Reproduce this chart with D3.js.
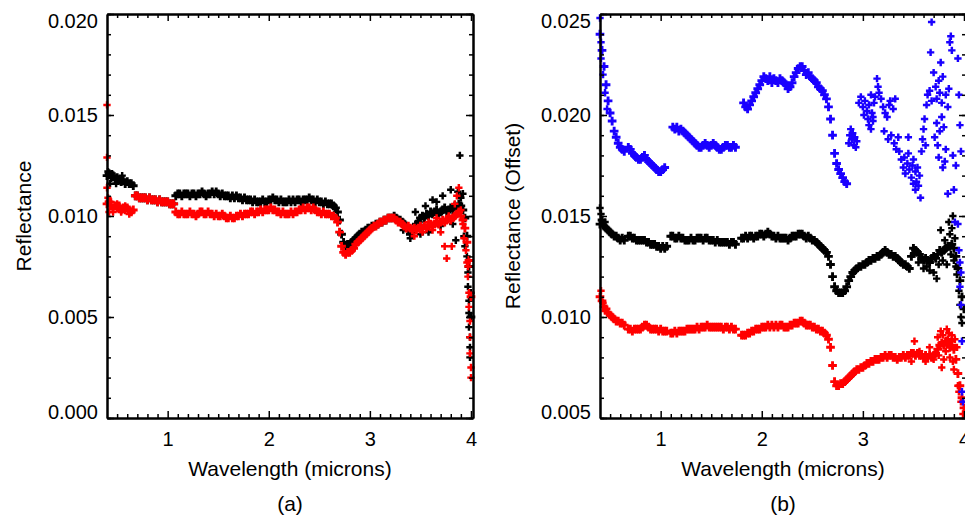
<!DOCTYPE html>
<html>
<head>
<meta charset="utf-8">
<script src="https://cdn.jsdelivr.net/npm/d3@7"></script>
<style>
body { margin: 0; background: #fff; }
svg { display: block; }
text { font-family: "Liberation Sans", Arial, Helvetica, sans-serif; fill: #000; }
</style>
</head>
<body>
<svg width="965" height="518"></svg>
<script>
// wavelength grid, microns
var wavelength = [
  0.40, 0.42, 0.44, 0.46, 0.48, 0.50, 0.52, 0.54, 0.56, 0.58,
  0.60, 0.62, 0.64, 0.66, 0.68, 0.70, 0.72, 0.74, 0.76, 0.78,
  0.80, 0.82, 0.84, 0.86, 0.88, 0.90, 0.92, 0.94, 0.96, 0.98,
  1.00, 1.02, 1.04, 1.06, 1.08, 1.10, 1.12, 1.14, 1.16, 1.18,
  1.20, 1.22, 1.24, 1.26, 1.28, 1.30, 1.32, 1.34, 1.36, 1.38,
  1.40, 1.42, 1.44, 1.46, 1.48, 1.50, 1.52, 1.54, 1.56, 1.58,
  1.60, 1.62, 1.64, 1.66, 1.68, 1.70, 1.72, 1.74, 1.76, 1.78,
  1.80, 1.82, 1.84, 1.86, 1.88, 1.90, 1.92, 1.94, 1.96, 1.98,
  2.00, 2.02, 2.04, 2.06, 2.08, 2.10, 2.12, 2.14, 2.16, 2.18,
  2.20, 2.22, 2.24, 2.26, 2.28, 2.30, 2.32, 2.34, 2.36, 2.38,
  2.40, 2.42, 2.44, 2.46, 2.48, 2.50, 2.52, 2.54, 2.56, 2.58,
  2.60, 2.62, 2.64, 2.66, 2.68, 2.70, 2.72, 2.74, 2.76, 2.78,
  2.80, 2.82, 2.84, 2.86, 2.88, 2.90, 2.92, 2.94, 2.96, 2.98,
  3.00, 3.02, 3.04, 3.06, 3.08, 3.10, 3.12, 3.14, 3.16, 3.18,
  3.20, 3.22, 3.24, 3.26, 3.28, 3.30, 3.32, 3.34, 3.36, 3.38,
  3.40, 3.42, 3.44, 3.46, 3.48, 3.50, 3.52, 3.54, 3.56, 3.58,
  3.60, 3.62, 3.64, 3.66, 3.68, 3.70, 3.72, 3.74, 3.76, 3.78,
  3.80, 3.82, 3.84, 3.86, 3.88, 3.90, 3.92, 3.94, 3.96, 3.98,
  4.00
];

// (a) black spectrum
var reflA_black = [
  0.0120, 0.0121, 0.0119, 0.0120, 0.0118, 0.0119, 0.0118, 0.0117, 0.0118, 0.0116,
  0.0117, 0.0116, 0.0116, 0.0115, 0.0110, 0.0110, 0.0109, 0.0109, 0.0109, 0.0109,
  0.0108, 0.0109, 0.0108, 0.0108, 0.0108, 0.0107, 0.0108, 0.0107, 0.0107, 0.0107,
  0.0107, 0.0106, 0.0106, 0.0106, 0.0110, 0.0111, 0.0111, 0.0110, 0.0111, 0.0111,
  0.0111, 0.0110, 0.0111, 0.0111, 0.0110, 0.0111, 0.0111, 0.0112, 0.0111, 0.0110,
  0.0111, 0.0111, 0.0112, 0.0111, 0.0112, 0.0111, 0.0110, 0.0111, 0.0110, 0.0110,
  0.0110, 0.0109, 0.0110, 0.0109, 0.0110, 0.0109, 0.0109, 0.0108, 0.0109, 0.0108,
  0.0108, 0.0108, 0.0107, 0.0108, 0.0107, 0.0107, 0.0107, 0.0108, 0.0107, 0.0107,
  0.0108, 0.0108, 0.0109, 0.0108, 0.0108, 0.0107, 0.0108, 0.0107, 0.0107, 0.0107,
  0.0108, 0.0107, 0.0108, 0.0107, 0.0108, 0.0108, 0.0107, 0.0108, 0.0108, 0.0108,
  0.0109, 0.0108, 0.0108, 0.0107, 0.0108, 0.0107, 0.0107, 0.0106, 0.0107, 0.0106,
  0.0106, 0.0106, 0.0105, 0.0104, 0.0102, 0.0098, 0.0091, 0.0087, 0.0085, 0.0086,
  0.0086, 0.0087, 0.0088, 0.0089, 0.0090, 0.0091, 0.0092, 0.0092, 0.0093, 0.0094,
  0.0094, 0.0095, 0.0095, 0.0096, 0.0096, 0.0097, 0.0097, 0.0098, 0.0098, 0.0099,
  0.0099, 0.0099, 0.0100, 0.0099, 0.0098, 0.0098, 0.0097, 0.0096, 0.0095, 0.0093,
  0.0091, 0.0092, 0.0094, 0.0096, 0.0097, 0.0099, 0.0100, 0.0099, 0.0101, 0.0100,
  0.0102, 0.0101, 0.0102, 0.0103, 0.0101, 0.0102, 0.0103, 0.0104, 0.0102, 0.0103,
  0.0104, 0.0103, 0.0105, 0.0104, 0.0106, 0.0105, 0.0103, 0.0099, 0.0090, 0.0075,
  0.0050
];

// (a) red spectrum
var reflA_red = [
  0.0106, 0.0107, 0.0105, 0.0104, 0.0105, 0.0104, 0.0105, 0.0103, 0.0104, 0.0103,
  0.0104, 0.0103, 0.0102, 0.0103, 0.0110, 0.0110, 0.0109, 0.0109, 0.0109, 0.0109,
  0.0108, 0.0109, 0.0108, 0.0108, 0.0108, 0.0107, 0.0108, 0.0107, 0.0107, 0.0107,
  0.0107, 0.0106, 0.0106, 0.0106, 0.0102, 0.0101, 0.0101, 0.0102, 0.0101, 0.0101,
  0.0101, 0.0102, 0.0101, 0.0101, 0.0100, 0.0101, 0.0102, 0.0102, 0.0101, 0.0101,
  0.0102, 0.0101, 0.0101, 0.0100, 0.0101, 0.0100, 0.0100, 0.0101, 0.0100, 0.0099,
  0.0099, 0.0100, 0.0099, 0.0099, 0.0100, 0.0100, 0.0101, 0.0100, 0.0101, 0.0101,
  0.0101, 0.0102, 0.0102, 0.0101, 0.0102, 0.0102, 0.0103, 0.0102, 0.0103, 0.0103,
  0.0103, 0.0104, 0.0103, 0.0103, 0.0102, 0.0102, 0.0101, 0.0102, 0.0101, 0.0101,
  0.0101, 0.0102, 0.0101, 0.0102, 0.0102, 0.0103, 0.0103, 0.0104, 0.0103, 0.0104,
  0.0104, 0.0103, 0.0104, 0.0103, 0.0102, 0.0102, 0.0101, 0.0102, 0.0101, 0.0101,
  0.0101, 0.0100, 0.0100, 0.0099, 0.0097, 0.0092, 0.0085, 0.0082, 0.0081, 0.0082,
  0.0082, 0.0083, 0.0084, 0.0086, 0.0087, 0.0088, 0.0089, 0.0090, 0.0091, 0.0092,
  0.0093, 0.0094, 0.0095, 0.0095, 0.0096, 0.0097, 0.0097, 0.0098, 0.0098, 0.0099,
  0.0099, 0.0099, 0.0099, 0.0098, 0.0097, 0.0097, 0.0096, 0.0095, 0.0094, 0.0095,
  0.0094, 0.0093, 0.0094, 0.0093, 0.0094, 0.0095, 0.0094, 0.0095, 0.0094, 0.0095,
  0.0096, 0.0095, 0.0096, 0.0097, 0.0096, 0.0097, 0.0098, 0.0097, 0.0098, 0.0099,
  0.0098, 0.0099, 0.0100, 0.0101, 0.0102, 0.0100, 0.0098, 0.0094, 0.0087, 0.0078,
  0.0060
];

// (a) noisy points off the grid [wavelength, reflectance]
var scatterA_black = [
  [0.41, 0.0122], [0.43, 0.0116], [0.45, 0.0121], [0.49, 0.0116], [0.55, 0.0120],
  [3.33, 0.0093], [3.40, 0.0089], [3.45, 0.0102], [3.50, 0.0091], [3.55, 0.0105],
  [3.58, 0.0092], [3.62, 0.0108], [3.66, 0.0107], [3.70, 0.0095], [3.72, 0.0110],
  [3.76, 0.0103], [3.80, 0.0113], [3.82, 0.0096], [3.85, 0.0088], [3.87, 0.0112],
  [3.89, 0.0130], [3.90, 0.0109], [3.92, 0.0111], [3.93, 0.0090], [3.94, 0.0085],
  [3.96, 0.0080], [3.97, 0.0072], [3.97, 0.0065], [3.98, 0.0058], [3.98, 0.0052],
  [3.98, 0.0045], [3.99, 0.0040], [3.99, 0.0035], [3.99, 0.0030], [4.00, 0.0062]
];
var scatterA_red = [
  [0.40, 0.0155], [0.40, 0.0129], [0.40, 0.0114], [0.41, 0.0109], [0.42, 0.0102],
  [0.44, 0.0107], [0.46, 0.0102], [0.50, 0.0106], [0.54, 0.0102], [0.58, 0.0105],
  [0.62, 0.0101],
  [3.44, 0.0090], [3.52, 0.0092], [3.58, 0.0097], [3.62, 0.0093], [3.66, 0.0099],
  [3.70, 0.0092], [3.74, 0.0085], [3.76, 0.0079], [3.78, 0.0100], [3.81, 0.0085],
  [3.84, 0.0106], [3.86, 0.0110], [3.88, 0.0114], [3.90, 0.0103], [3.92, 0.0096],
  [3.93, 0.0089], [3.95, 0.0083], [3.96, 0.0077], [3.97, 0.0075], [3.97, 0.0070],
  [3.98, 0.0062], [3.98, 0.0055], [3.99, 0.0048], [3.99, 0.0040], [3.99, 0.0032],
  [4.00, 0.0025], [4.00, 0.0020]
];

// (b) blue spectrum, grid part (0.40 - 2.84)
var reflB_blue = [
  0.0240, 0.0232, 0.0224, 0.0215, 0.0207, 0.0201, 0.0197, 0.0192, 0.0189, 0.0186,
  0.0184, 0.0183, 0.0182, null,   0.0184, 0.0183, 0.0181, 0.0180, 0.0179, 0.0178,
  0.0178, 0.0179, 0.0180, 0.0178, 0.0177, 0.0176, 0.0175, 0.0174, 0.0173, 0.0172,
  0.0172, 0.0173, 0.0174, null,   null,   null,   0.0194, 0.0193, 0.0194, 0.0192,
  0.0193, 0.0192, 0.0191, 0.0190, 0.0189, 0.0188, 0.0187, 0.0186, 0.0185, 0.0184,
  0.0184, 0.0185, 0.0186, 0.0185, 0.0184, 0.0185, 0.0186, 0.0185, 0.0184, 0.0183,
  0.0183, 0.0184, 0.0185, 0.0185, 0.0184, 0.0184, 0.0185, 0.0184, null,   null,
  null,   0.0206, 0.0204, 0.0203, 0.0205, 0.0207, 0.0209, 0.0211, 0.0213, 0.0215,
  0.0217, 0.0219, 0.0218, 0.0217, 0.0219, 0.0216, 0.0218, 0.0217, 0.0216, 0.0218,
  0.0217, 0.0216, 0.0215, 0.0213, 0.0214, 0.0216, 0.0219, 0.0221, 0.0223, 0.0224,
  0.0224, 0.0222, 0.0220, 0.0221, 0.0219, 0.0218, 0.0217, 0.0216, 0.0214, 0.0213,
  0.0212, 0.0210, 0.0208, 0.0204, 0.0198, 0.0190, 0.0181, 0.0176, 0.0173, 0.0171,
  0.0169, 0.0167, 0.0166
];

// (b) black spectrum
var reflB_black = [
  0.0146, 0.0148, 0.0145, 0.0144, 0.0143, 0.0142, 0.0141, 0.0140, 0.0140, 0.0139,
  0.0138, 0.0139, 0.0138, null,   0.0140, 0.0140, 0.0139, 0.0139, 0.0138, 0.0138,
  0.0138, 0.0138, 0.0138, 0.0137, 0.0137, 0.0136, 0.0136, 0.0136, 0.0135, 0.0135,
  0.0134, 0.0135, 0.0134, 0.0135, null,   0.0140, 0.0140, 0.0139, 0.0139, 0.0140,
  0.0139, 0.0139, 0.0138, 0.0138, 0.0138, 0.0139, 0.0138, 0.0138, 0.0139, 0.0139,
  0.0139, 0.0138, 0.0139, 0.0139, 0.0138, 0.0138, 0.0138, 0.0137, 0.0138, 0.0137,
  0.0137, 0.0137, 0.0137, 0.0137, 0.0136, 0.0137, 0.0137, 0.0136, null,   null,
  0.0139, 0.0139, 0.0140, 0.0139, 0.0140, 0.0140, 0.0139, 0.0140, 0.0140, 0.0141,
  0.0141, 0.0140, 0.0141, 0.0142, 0.0141, 0.0140, 0.0140, 0.0139, 0.0140, 0.0139,
  0.0139, 0.0139, 0.0139, 0.0138, 0.0139, 0.0140, 0.0140, 0.0140, 0.0141, 0.0141,
  0.0141, 0.0140, 0.0139, 0.0140, 0.0139, 0.0138, 0.0138, 0.0137, 0.0136, 0.0135,
  0.0134, 0.0133, 0.0132, 0.0130, 0.0126, 0.0120, 0.0115, 0.0113, 0.0112, 0.0112,
  0.0112, 0.0113, 0.0115, 0.0118, 0.0120, 0.0122, 0.0123, 0.0124, 0.0125, 0.0125,
  0.0126, 0.0126, 0.0127, 0.0128, 0.0128, 0.0129, 0.0129, 0.0130, 0.0130, 0.0131,
  0.0132, 0.0133, 0.0132, 0.0131, 0.0131, 0.0130, 0.0130, 0.0129, 0.0128, 0.0127,
  0.0126, 0.0126, 0.0125, 0.0124, 0.0130, 0.0134, 0.0133, 0.0132, 0.0131, 0.0129,
  0.0128, 0.0129, 0.0128, 0.0127, 0.0129, 0.0130, 0.0129, 0.0131, 0.0133, 0.0132,
  0.0133, 0.0134, 0.0135, 0.0135, 0.0136, 0.0134, 0.0130, 0.0124, 0.0118, 0.0110,
  0.0104
];

// (b) red spectrum
var reflB_red = [
  0.0110, 0.0108, 0.0105, 0.0104, 0.0102, 0.0101, 0.0100, 0.0099, 0.0098, 0.0098,
  0.0097, 0.0097, 0.0096, null,   0.0094, 0.0094, 0.0093, 0.0094, 0.0094, 0.0094,
  0.0094, 0.0095, 0.0096, 0.0096, 0.0095, 0.0094, 0.0094, 0.0094, 0.0094, 0.0093,
  0.0094, 0.0093, 0.0093, 0.0093, null,   0.0092, 0.0092, 0.0093, 0.0092, 0.0093,
  0.0093, 0.0093, 0.0093, 0.0094, 0.0094, 0.0094, 0.0094, 0.0094, 0.0095, 0.0094,
  0.0095, 0.0095, 0.0095, 0.0096, 0.0095, 0.0095, 0.0095, 0.0095, 0.0095, 0.0095,
  0.0095, 0.0094, 0.0095, 0.0095, 0.0094, 0.0095, 0.0094, 0.0094, null,   null,
  0.0091, 0.0091, 0.0091, 0.0092, 0.0092, 0.0093, 0.0093, 0.0094, 0.0094, 0.0094,
  0.0095, 0.0095, 0.0095, 0.0096, 0.0095, 0.0096, 0.0095, 0.0096, 0.0095, 0.0096,
  0.0096, 0.0095, 0.0095, 0.0095, 0.0096, 0.0096, 0.0097, 0.0097, 0.0097, 0.0098,
  0.0098, 0.0097, 0.0096, 0.0096, 0.0096, 0.0095, 0.0095, 0.0094, 0.0094, 0.0093,
  0.0093, 0.0092, 0.0091, 0.0089, 0.0085, 0.0076, 0.0068, 0.0066, 0.0066, 0.0067,
  0.0067, 0.0068, 0.0069, 0.0070, 0.0071, 0.0072, 0.0073, 0.0074, 0.0074, 0.0075,
  0.0075, 0.0076, 0.0077, 0.0077, 0.0078, 0.0078, 0.0079, 0.0079, 0.0079, 0.0080,
  0.0080, 0.0081, 0.0080, 0.0081, 0.0081, 0.0080, 0.0080, 0.0079, 0.0080, 0.0080,
  0.0081, 0.0080, 0.0081, 0.0081, 0.0082, 0.0082, 0.0081, 0.0082, 0.0081, 0.0081,
  0.0080, 0.0081, 0.0080, 0.0081, 0.0080, 0.0081, 0.0082, 0.0084, 0.0086, 0.0087,
  0.0086, 0.0088, 0.0087, 0.0085, 0.0086, 0.0084, 0.0079, 0.0072, 0.0066, 0.0060,
  0.0055
];

// (b) noisy points off the grid [wavelength, reflectance]
var scatterB_blue = [
  [0.40, 0.0248], [0.41, 0.0236], [0.41, 0.0228], [0.43, 0.0220], [0.45, 0.0211], [0.47, 0.0203],
  [2.86, 0.0186], [2.87, 0.0190], [2.88, 0.0193], [2.89, 0.0188], [2.90, 0.0191], [2.91, 0.0185],
  [2.92, 0.0189], [2.93, 0.0184], [2.94, 0.0187],
  [2.96, 0.0206], [2.98, 0.0209], [3.00, 0.0204], [3.01, 0.0200], [3.02, 0.0207], [3.04, 0.0202],
  [3.05, 0.0198], [3.06, 0.0205], [3.08, 0.0210], [3.09, 0.0201], [3.10, 0.0197], [3.11, 0.0206],
  [3.12, 0.0209], [3.14, 0.0218], [3.15, 0.0214], [3.16, 0.0211],
  [3.06, 0.0195], [3.08, 0.0193], [3.10, 0.0199],
  [3.18, 0.0208], [3.20, 0.0204], [3.22, 0.0201], [3.24, 0.0199], [3.26, 0.0205], [3.27, 0.0207],
  [3.30, 0.0203], [3.32, 0.0208],
  [3.21, 0.0192], [3.25, 0.0188], [3.28, 0.0190], [3.31, 0.0186], [3.33, 0.0183], [3.35, 0.0189],
  [3.36, 0.0182], [3.38, 0.0178], [3.40, 0.0174], [3.41, 0.0179], [3.42, 0.0171], [3.44, 0.0176],
  [3.45, 0.0181], [3.46, 0.0173], [3.48, 0.0169], [3.49, 0.0175], [3.50, 0.0178], [3.52, 0.0172],
  [3.53, 0.0167], [3.54, 0.0174], [3.56, 0.0170], [3.45, 0.0189],
  [3.50, 0.0166], [3.52, 0.0163], [3.55, 0.0165], [3.57, 0.0159],
  [3.58, 0.0182], [3.59, 0.0188], [3.60, 0.0193], [3.61, 0.0198], [3.62, 0.0185],
  [3.63, 0.0205], [3.64, 0.0210], [3.66, 0.0212], [3.68, 0.0207], [3.67, 0.0231], [3.68, 0.0246],
  [3.70, 0.0221], [3.72, 0.0214], [3.73, 0.0208], [3.75, 0.0217], [3.76, 0.0211], [3.78, 0.0206],
  [3.79, 0.0219], [3.77, 0.0226],
  [3.71, 0.0189], [3.73, 0.0196], [3.74, 0.0185], [3.76, 0.0192], [3.78, 0.0199], [3.80, 0.0194],
  [3.82, 0.0183], [3.75, 0.0179], [3.79, 0.0174], [3.81, 0.0177], [3.84, 0.0161],
  [3.82, 0.0210], [3.84, 0.0204], [3.85, 0.0213], [3.86, 0.0236], [3.87, 0.0239], [3.88, 0.0232],
  [3.89, 0.0180], [3.90, 0.0163], [3.92, 0.0175], [3.91, 0.0147],
  [3.94, 0.0228], [3.95, 0.0210], [3.96, 0.0195], [3.97, 0.0182],
  [3.94, 0.0146], [3.95, 0.0133], [3.96, 0.0127], [3.97, 0.0122], [3.96, 0.0115], [3.97, 0.0106],
  [3.98, 0.0088], [3.98, 0.0063], [3.99, 0.0058]
];
var scatterB_black = [
  [0.40, 0.0154], [0.41, 0.0151], [0.43, 0.0146], [0.45, 0.0147],
  [3.50, 0.0131], [3.55, 0.0127], [3.60, 0.0124], [3.63, 0.0125], [3.66, 0.0123], [3.70, 0.0122],
  [3.73, 0.0119], [3.75, 0.0126], [3.77, 0.0143], [3.79, 0.0128], [3.81, 0.0138], [3.83, 0.0126],
  [3.85, 0.0147], [3.86, 0.0141], [3.87, 0.0131], [3.88, 0.0144], [3.89, 0.0150], [3.90, 0.0128],
  [3.91, 0.0139], [3.92, 0.0125], [3.93, 0.0121], [3.95, 0.0113], [3.96, 0.0106], [3.97, 0.0100],
  [3.98, 0.0097]
];
var scatterB_red = [
  [0.41, 0.0113], [0.43, 0.0107], [0.45, 0.0103],
  [3.48, 0.0078], [3.51, 0.0088], [3.56, 0.0083], [3.62, 0.0078], [3.66, 0.0085], [3.70, 0.0079],
  [3.74, 0.0090], [3.75, 0.0081], [3.77, 0.0093], [3.78, 0.0075], [3.79, 0.0091], [3.80, 0.0079],
  [3.82, 0.0083], [3.83, 0.0094], [3.84, 0.0089], [3.85, 0.0092], [3.86, 0.0080], [3.87, 0.0088],
  [3.88, 0.0091], [3.89, 0.0078], [3.90, 0.0074], [3.91, 0.0089], [3.93, 0.0085], [3.94, 0.0066],
  [3.95, 0.0063], [3.97, 0.0058], [3.99, 0.0052]
];

var xMajor = [1, 2, 3, 4];
var yMajorA = [0.000, 0.005, 0.010, 0.015, 0.020];
var yMajorB = [0.005, 0.010, 0.015, 0.020, 0.025];

var svg = d3.select("svg");
var plotW = 366, plotH = 404, plotTop = 14;
// dense spectra get a slightly fatter cross so the band closes up
var crossDense = d3.symbol().type(d3.symbolCross).size(42);
var crossSparse = d3.symbol().type(d3.symbolCross).size(30);

function onGrid(values) {
    return wavelength.map(function (w, i) { return [w, values[i]]; })
        .filter(function (d) { return d[1] != null; });
}

function drawPanel(p) {
    var g = svg.append("g").attr("transform", "translate(" + p.left + "," + plotTop + ")");
    var x = d3.scaleLinear().domain([0.4, 4.02]).range([0, plotW]);
    var y = d3.scaleLinear().domain(p.yDomain).range([plotH, 0]);

    p.series.forEach(function (s) {
        var sg = g.append("g").attr("fill", s.color);
        sg.selectAll("path.dense")
            .data(onGrid(s.grid))
            .enter().append("path")
            .attr("class", "dense")
            .attr("d", crossDense)
            .attr("transform", function (d) { return "translate(" + x(d[0]) + "," + y(d[1]) + ")"; });
        sg.selectAll("path.sparse")
            .data(s.scatter)
            .enter().append("path")
            .attr("class", "sparse")
            .attr("d", crossSparse)
            .attr("transform", function (d) { return "translate(" + x(d[0]) + "," + y(d[1]) + ")"; });
    });

    var xMinor = d3.range(0.5, 4.01, 0.1).filter(function (v) { return Math.abs(v - Math.round(v)) > 0.01; });
    var yMinor = d3.range(p.yDomain[0], p.yDomain[1] + 0.00001, 0.001);

    function style(a) {
        a.select(".domain").attr("stroke-width", 2);
        a.selectAll(".tick line").attr("stroke-width", 1.5);
        a.selectAll("text").attr("font-size", 20);
    }

    // bottom
    g.append("g").attr("transform", "translate(0," + plotH + ")")
        .call(d3.axisBottom(x).tickValues(xMinor).tickSize(-4).tickSizeOuter(0).tickFormat(""))
        .call(style);
    g.append("g").attr("transform", "translate(0," + plotH + ")")
        .call(d3.axisBottom(x).tickValues(xMajor).tickSize(-7).tickSizeOuter(0).tickPadding(14).tickFormat(d3.format("d")))
        .call(style);
    // top
    g.append("g")
        .call(d3.axisTop(x).tickValues(xMinor).tickSize(-4).tickSizeOuter(0).tickFormat(""))
        .call(style);
    g.append("g")
        .call(d3.axisTop(x).tickValues(xMajor).tickSize(-7).tickSizeOuter(0).tickFormat(""))
        .call(style);
    // left
    g.append("g")
        .call(d3.axisLeft(y).tickValues(yMinor).tickSize(-4).tickSizeOuter(0).tickFormat(""))
        .call(style);
    var yl = g.append("g")
        .call(d3.axisLeft(y).tickValues(p.yMajor).tickSize(-7).tickSizeOuter(0).tickPadding(9).tickFormat(d3.format(".3f")))
        .call(style);
    yl.selectAll(".tick text").attr("y", function (d, i) {
        return i === 0 ? -6 : (i === p.yMajor.length - 1 ? 7 : 0);
    });
    // right
    g.append("g").attr("transform", "translate(" + plotW + ",0)")
        .call(d3.axisRight(y).tickValues(yMinor).tickSize(-4).tickSizeOuter(0).tickFormat(""))
        .call(style);
    g.append("g").attr("transform", "translate(" + plotW + ",0)")
        .call(d3.axisRight(y).tickValues(p.yMajor).tickSize(-7).tickSizeOuter(0).tickFormat(""))
        .call(style);

    g.append("text")
        .attr("x", plotW / 2).attr("y", 462)
        .attr("text-anchor", "middle").attr("font-size", 21)
        .text("Wavelength (microns)");
    g.append("text")
        .attr("x", plotW / 2).attr("y", 497)
        .attr("text-anchor", "middle").attr("font-size", 21)
        .text(p.letter);
    g.append("text")
        .attr("transform", "translate(" + p.titleX + "," + (plotH / 2) + ") rotate(-90)")
        .attr("text-anchor", "middle").attr("font-size", 21)
        .text(p.yTitle);
}

drawPanel({
    left: 107,
    yDomain: [0, 0.020],
    yMajor: yMajorA,
    yTitle: "Reflectance",
    titleX: -76,
    letter: "(a)",
    series: [
        { color: "#000000", grid: reflA_black, scatter: scatterA_black },
        { color: "#ff0000", grid: reflA_red, scatter: scatterA_red }
    ]
});

drawPanel({
    left: 600,
    yDomain: [0.005, 0.025],
    yMajor: yMajorB,
    yTitle: "Reflectance (Offset)",
    titleX: -80,
    letter: "(b)",
    series: [
        { color: "#000000", grid: reflB_black, scatter: scatterB_black },
        { color: "#ff0000", grid: reflB_red, scatter: scatterB_red },
        { color: "#1a00ff", grid: reflB_blue, scatter: scatterB_blue }
    ]
});
</script>
</body>
</html>
